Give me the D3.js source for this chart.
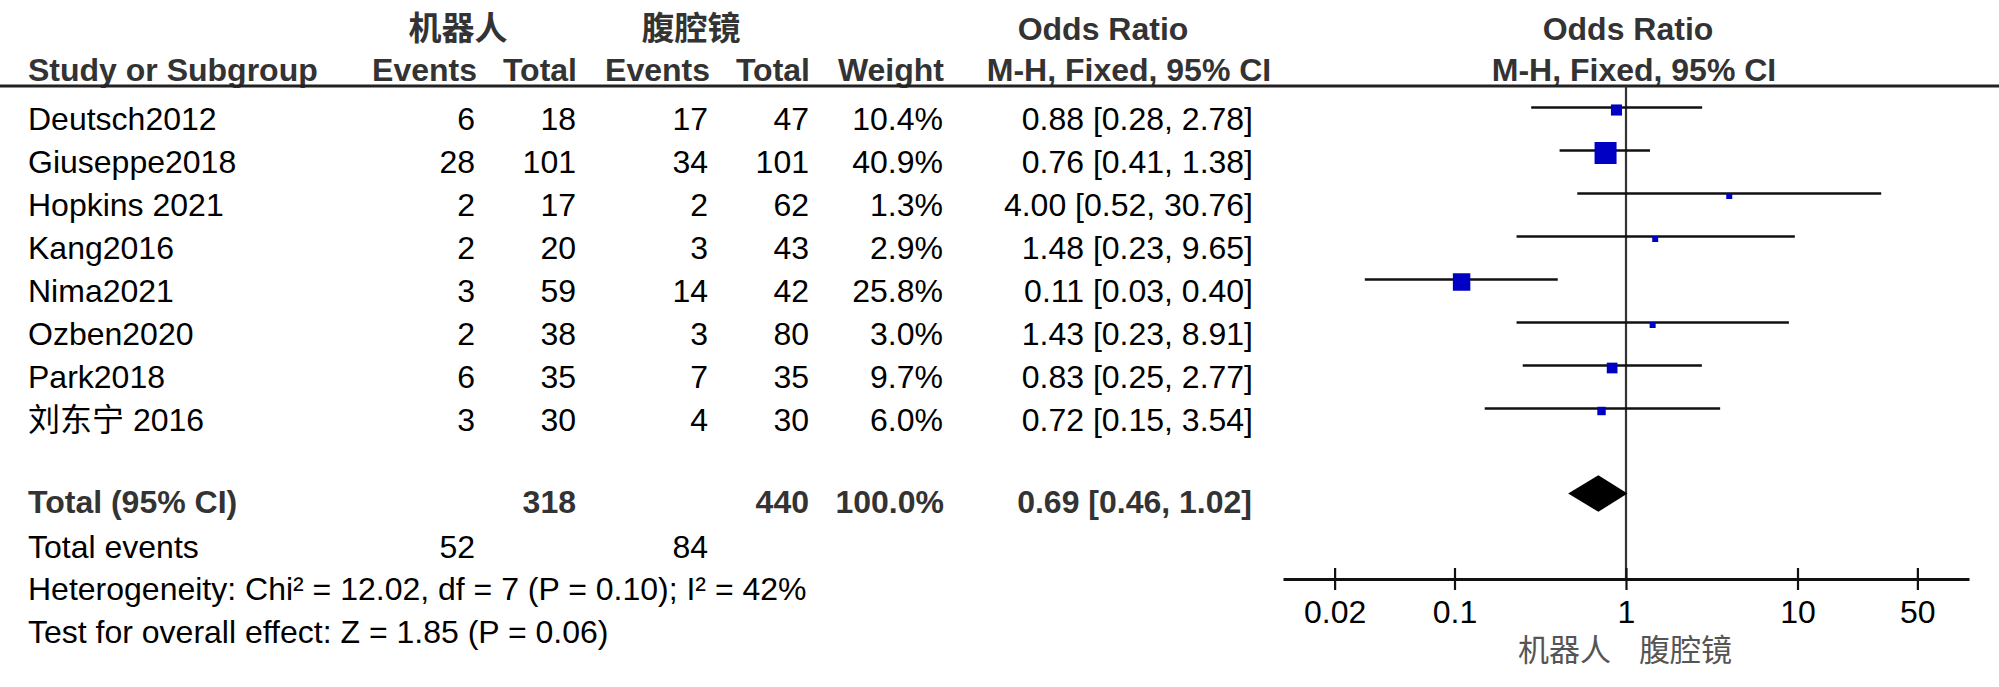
<!DOCTYPE html>
<html>
<head>
<meta charset="utf-8">
<script src="https://cdn.jsdelivr.net/npm/d3@7"></script>
<style>
body { margin: 0; background: #fff; }
</style>
</head>
<body>
<svg width="1999" height="687"></svg>
<script>
var studies = ['Deutsch2012', 'Giuseppe2018', 'Hopkins 2021', 'Kang2016', 'Nima2021', 'Ozben2020', 'Park2018', '刘东宁 2016']
var robotEvents = [6, 28, 2, 2, 3, 2, 6, 3]
var robotTotal = [18, 101, 17, 20, 59, 38, 35, 30]
var lapEvents = [17, 34, 2, 3, 14, 3, 7, 4]
var lapTotal = [47, 101, 62, 43, 42, 80, 35, 30]
var weights = [10.4, 40.9, 1.3, 2.9, 25.8, 3.0, 9.7, 6.0]
var oddsRatio = [0.88, 0.76, 4.00, 1.48, 0.11, 1.43, 0.83, 0.72]
var ciLow = [0.28, 0.41, 0.52, 0.23, 0.03, 0.23, 0.25, 0.15]
var ciHigh = [2.78, 1.38, 30.76, 9.65, 0.40, 8.91, 2.77, 3.54]

var pooled = { or: 0.69, low: 0.46, high: 1.02 }
var totalN = [318, 440]
var totalEvents = [52, 84]
var groupNames = ['机器人', '腹腔镜']
var tickValues = [0.02, 0.1, 1, 10, 50]
var hetText = 'Heterogeneity: Chi² = 12.02, df = 7 (P = 0.10); I² = 42%'
var effectText = 'Test for overall effect: Z = 1.85 (P = 0.06)'

var svg = d3.select('svg')
var font = '"Liberation Sans", Arial, "Noto Sans CJK SC", sans-serif'
var cjk = '"Noto Sans CJK SC", sans-serif'

var xScale = d3.scaleLog().domain([0.01, 100]).range([1283, 1969])
var yScale = d3.scaleLinear().domain([0, studies.length - 1]).range([130, 431])
var sizeScale = d3.scaleSqrt().domain([0, d3.max(weights)]).range([0, 22])

function txt(x, y, s, anchor, bold, color, size, family) {
    return svg.append('text')
        .attr('x', x)
        .attr('y', y)
        .attr('text-anchor', anchor || 'start')
        .style('font-family', family || font)
        .style('font-size', (size || 32) + 'px')
        .style('font-weight', bold ? 'bold' : 'normal')
        .style('fill', color || '#000')
        .text(s)
}

function boxSize(i) {
    return Math.max(sizeScale(weights[i]), 6)
}

// column right edges
var colE1 = 475, colT1 = 576, colE2 = 708, colT2 = 809, colW = 943, colCI = 1253

//header row 1
txt(458, 40, groupNames[0], 'middle', true, '#333', 33, cjk)
txt(691, 40, groupNames[1], 'middle', true, '#333', 33, cjk)
txt(1103, 40, 'Odds Ratio', 'middle', true, '#333')
txt(1628, 40, 'Odds Ratio', 'middle', true, '#333')

//header row 2
txt(28, 81, 'Study or Subgroup', 'start', true, '#333')
txt(477, 81, 'Events', 'end', true, '#333')
txt(577, 81, 'Total', 'end', true, '#333')
txt(710, 81, 'Events', 'end', true, '#333')
txt(810, 81, 'Total', 'end', true, '#333')
txt(944, 81, 'Weight', 'end', true, '#333')
txt(1129, 81, 'M-H, Fixed, 95% CI', 'middle', true, '#333')
txt(1634, 81, 'M-H, Fixed, 95% CI', 'middle', true, '#333')

svg.append('line')
    .attr('x1', 0).attr('x2', 1999)
    .attr('y1', 86).attr('y2', 86)
    .style('stroke', '#222')
    .style('stroke-width', 2.8)

//study rows
studies.forEach(function(s, i) {
    var y = yScale(i)
    txt(28, y, s)
    txt(colE1, y, robotEvents[i], 'end')
    txt(colT1, y, robotTotal[i], 'end')
    txt(colE2, y, lapEvents[i], 'end')
    txt(colT2, y, lapTotal[i], 'end')
    txt(colW, y, weights[i].toFixed(1) + '%', 'end')
    txt(colCI, y, oddsRatio[i].toFixed(2) + ' [' + ciLow[i].toFixed(2) + ', ' + ciHigh[i].toFixed(2) + ']', 'end')
})

//totals
var totalY = 513
txt(28, totalY, 'Total (95% CI)', 'start', true, '#333')
txt(colT1, totalY, totalN[0], 'end', true, '#333')
txt(colT2, totalY, totalN[1], 'end', true, '#333')
txt(colW + 1, totalY, d3.sum(weights).toFixed(1) + '%', 'end', true, '#333')
txt(colCI - 1, totalY, pooled.or.toFixed(2) + ' [' + pooled.low.toFixed(2) + ', ' + pooled.high.toFixed(2) + ']', 'end', true, '#333')

txt(28, 558, 'Total events')
txt(colE1, 558, totalEvents[0], 'end')
txt(colE2, 558, totalEvents[1], 'end')
txt(28, 600, hetText)
txt(28, 643, effectText)

//plot
var axisY = 579
svg.append('line')
    .attr('x1', xScale(1)).attr('x2', xScale(1))
    .attr('y1', 86).attr('y2', axisY)
    .style('stroke', '#333')
    .style('stroke-width', 2.2)

var plot = svg.append('g')
plot.selectAll('.ci')
    .data(studies)
    .enter()
    .append('line')
    .attr('class', 'ci')
    .attr('x1', function(d, i) { return xScale(ciLow[i]) })
    .attr('x2', function(d, i) { return xScale(ciHigh[i]) })
    .attr('y1', function(d, i) { return yScale(i) - 22.5 })
    .attr('y2', function(d, i) { return yScale(i) - 22.5 })
    .style('stroke', '#111')
    .style('stroke-width', 2.7)

plot.selectAll('.box')
    .data(studies)
    .enter()
    .append('rect')
    .attr('class', 'box')
    .attr('x', function(d, i) { return xScale(oddsRatio[i]) - boxSize(i) / 2 })
    .attr('y', function(d, i) { return yScale(i) - 20 - boxSize(i) / 2 })
    .attr('width', function(d, i) { return boxSize(i) })
    .attr('height', function(d, i) { return boxSize(i) })
    .style('fill', '#0000c4')

var dc = totalY - 19.5
plot.append('path')
    .attr('d', 'M' + xScale(pooled.low) + ',' + dc +
        'L' + xScale(pooled.or) + ',' + (dc - 18.3) +
        'L' + xScale(pooled.high) + ',' + dc +
        'L' + xScale(pooled.or) + ',' + (dc + 18.3) + 'Z')
    .style('fill', '#000')

//x axis
var axis = svg.append('g')
    .attr('transform', 'translate(0,' + axisY + ')')
    .call(d3.axisBottom(xScale)
        .tickValues(tickValues)
        .tickFormat(function(d) { return String(d) })
        .tickSizeOuter(0))
axis.select('.domain').style('stroke', '#111').style('stroke-width', 3)
axis.selectAll('.tick line')
    .attr('y1', -11).attr('y2', 11)
    .style('stroke', '#111')
    .style('stroke-width', 2.2)
axis.selectAll('.tick text')
    .attr('y', 44)
    .attr('dy', null)
    .style('font-family', font)
    .style('font-size', '32px')
    .style('fill', '#000')

txt(xScale(1) - 15, 661, groupNames[0], 'end', false, '#555', 31, cjk)
txt(xScale(1) + 13, 661, groupNames[1], 'start', false, '#555', 31, cjk)
</script>
</body>
</html>
